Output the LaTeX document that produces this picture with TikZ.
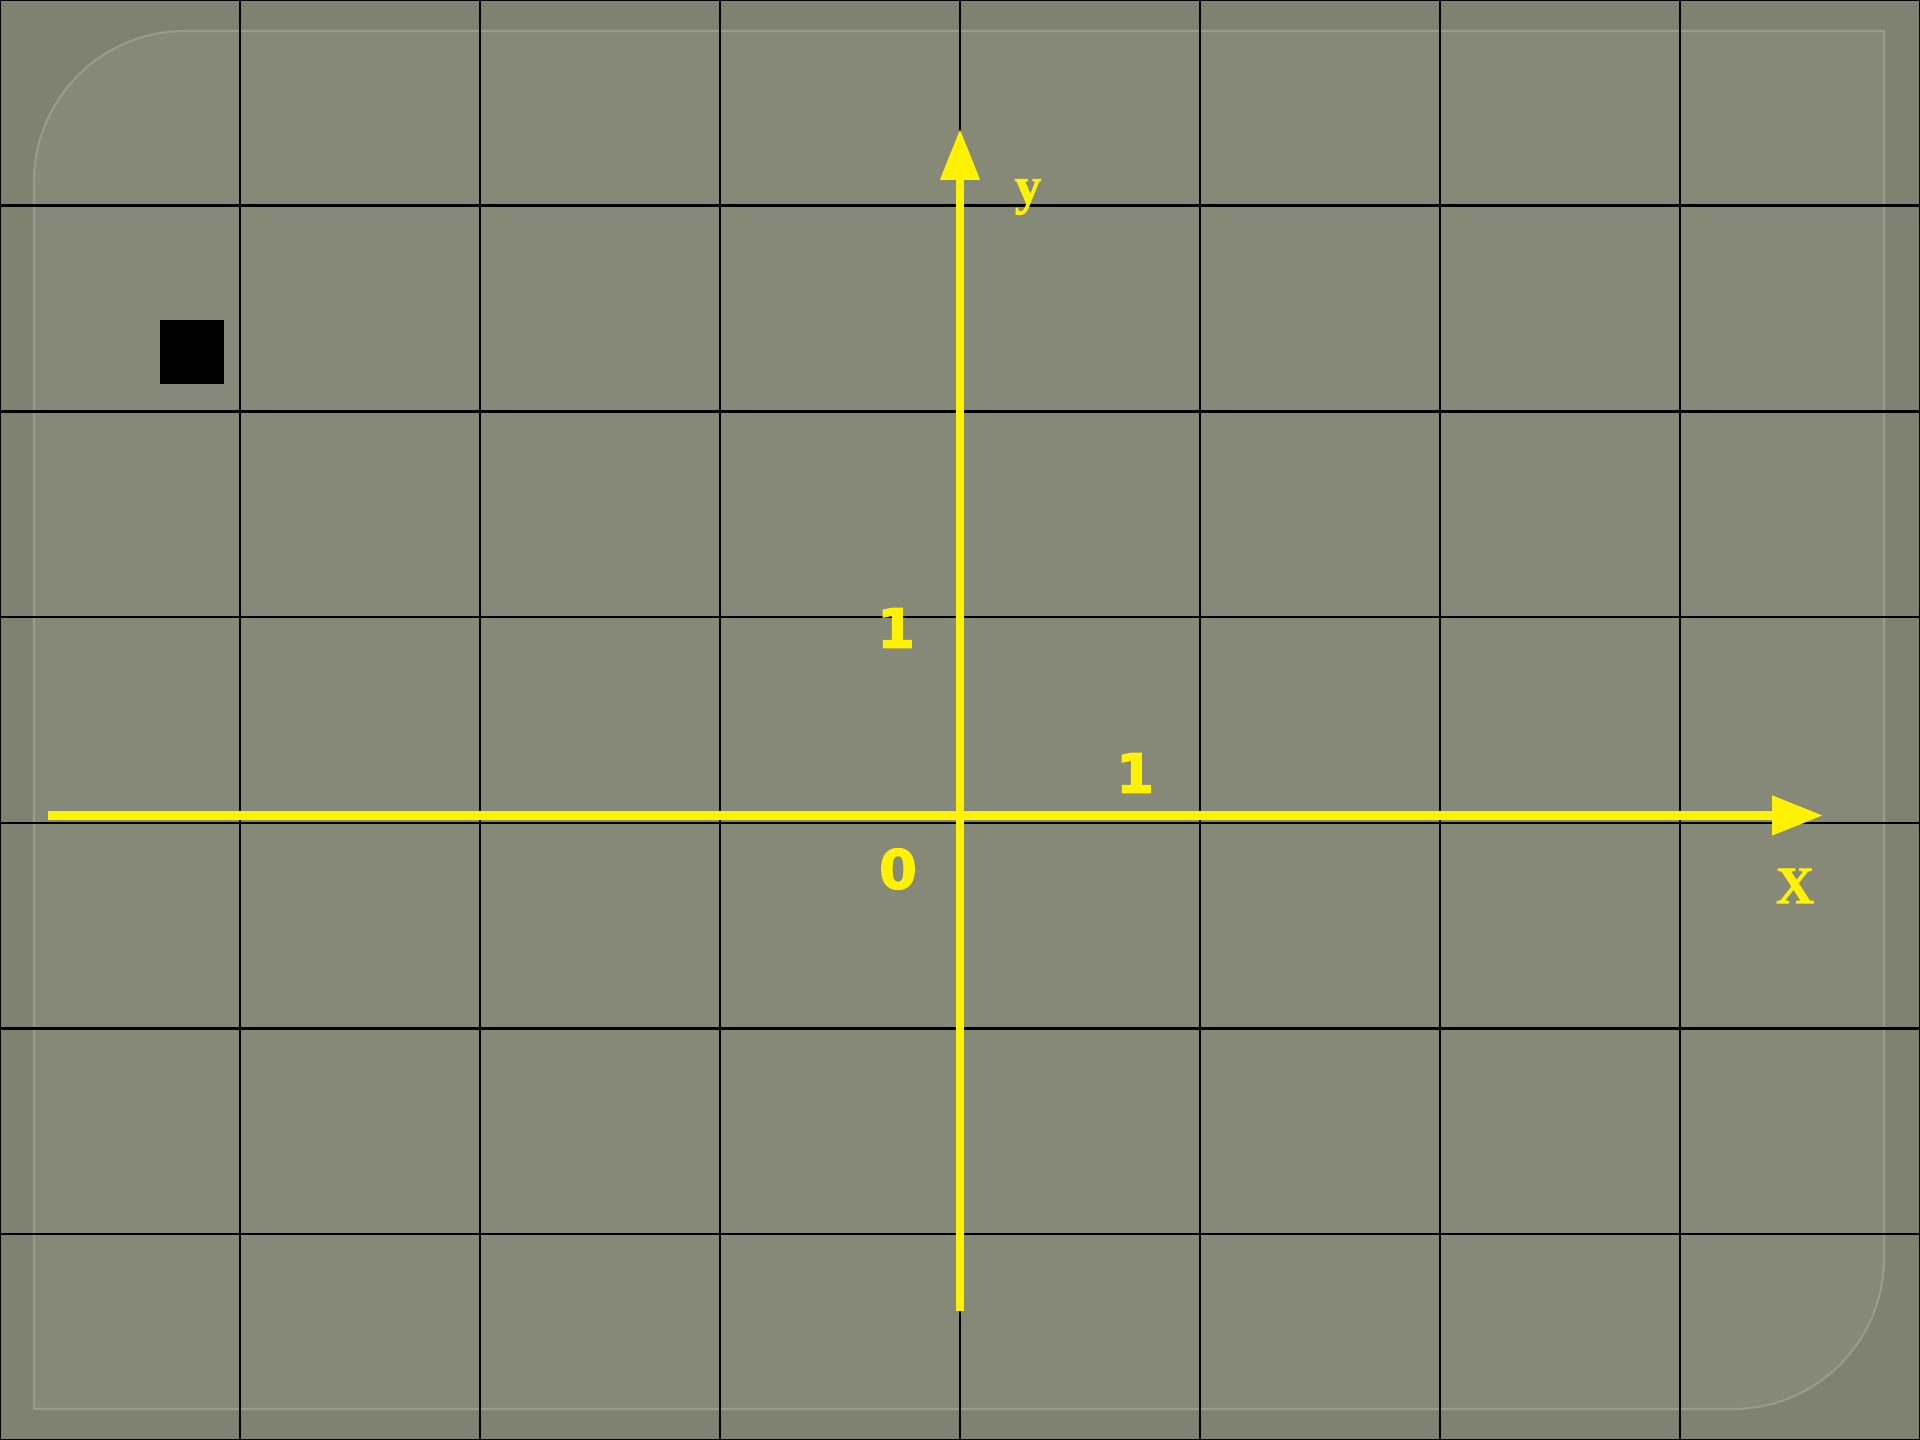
\documentclass[tikz,border=0pt]{standalone}
\usepackage{fontspec}
\usetikzlibrary{arrows.meta}
\newfontfamily\digitfont{DejaVu Sans Bold}[FakeBold=2.5]
\newfontfamily\letterfont{Liberation Serif Bold}[FakeBold=1.5]
\definecolor{bgouter}{RGB}{128,130,113}
\definecolor{bginner}{RGB}{134,137,119}
\definecolor{panelline}{RGB}{152,155,137}
\tikzset{
	gridline/.style={black, line width=0.7pt},
	axis/.style={yellow, line width=2.3pt, -{Triangle[length=5.1mm, width=3.8mm]}},
	numlabel/.style={yellow, inner sep=0pt, font=\digitfont\fontsize{15.4}{16}\selectfont},
	varlabel/.style={yellow, inner sep=0pt, font=\letterfont\fontsize{15}{16}\selectfont}
}
\begin{document}
\begin{tikzpicture}[x=0.1mm, y=0.1mm]
		\useasboundingbox (0,0) rectangle (1920,1440);
		\fill[bgouter] (0,0) rectangle (1920,1440);
		\filldraw[fill=bginner, draw=panelline, line width=0.6pt] (34,31) -- (34,1258) arc[start angle=180, end angle=90, radius=15.1mm]
			-- (1884,1409) -- (1884,182) arc[start angle=0, end angle=-90, radius=15.1mm] -- cycle;
		
		\foreach \i in {0,...,8}
			\draw[gridline] (240*\i,0) -- (240*\i,1440);
		\foreach \j in {0,...,7}
			\draw[gridline] (0,1440*\j/7) -- (1920,1440*\j/7);
		
		\fill (160,1056) rectangle (224,1120);
		
		\coordinate (xstart) at (48,624.5);
		\coordinate (xend) at (1823,624.5);
		\coordinate (ystart) at (960,129);
		\coordinate (yend) at (960,1311);
		\draw[axis] (xstart) -- (xend);
		\draw[axis] (ystart) -- (yend);
		
		\node[varlabel] (ylabel) at (1028,1243) {y};
		\node[varlabel] (xlabel) at (1795,554) {X};
		\node[numlabel] (yone) at (896,812) {1};
		\node[numlabel] (xone) at (1135,667) {1};
		\node[numlabel] (origin) at (898,571) {0};
	\end{tikzpicture}
\end{document}
